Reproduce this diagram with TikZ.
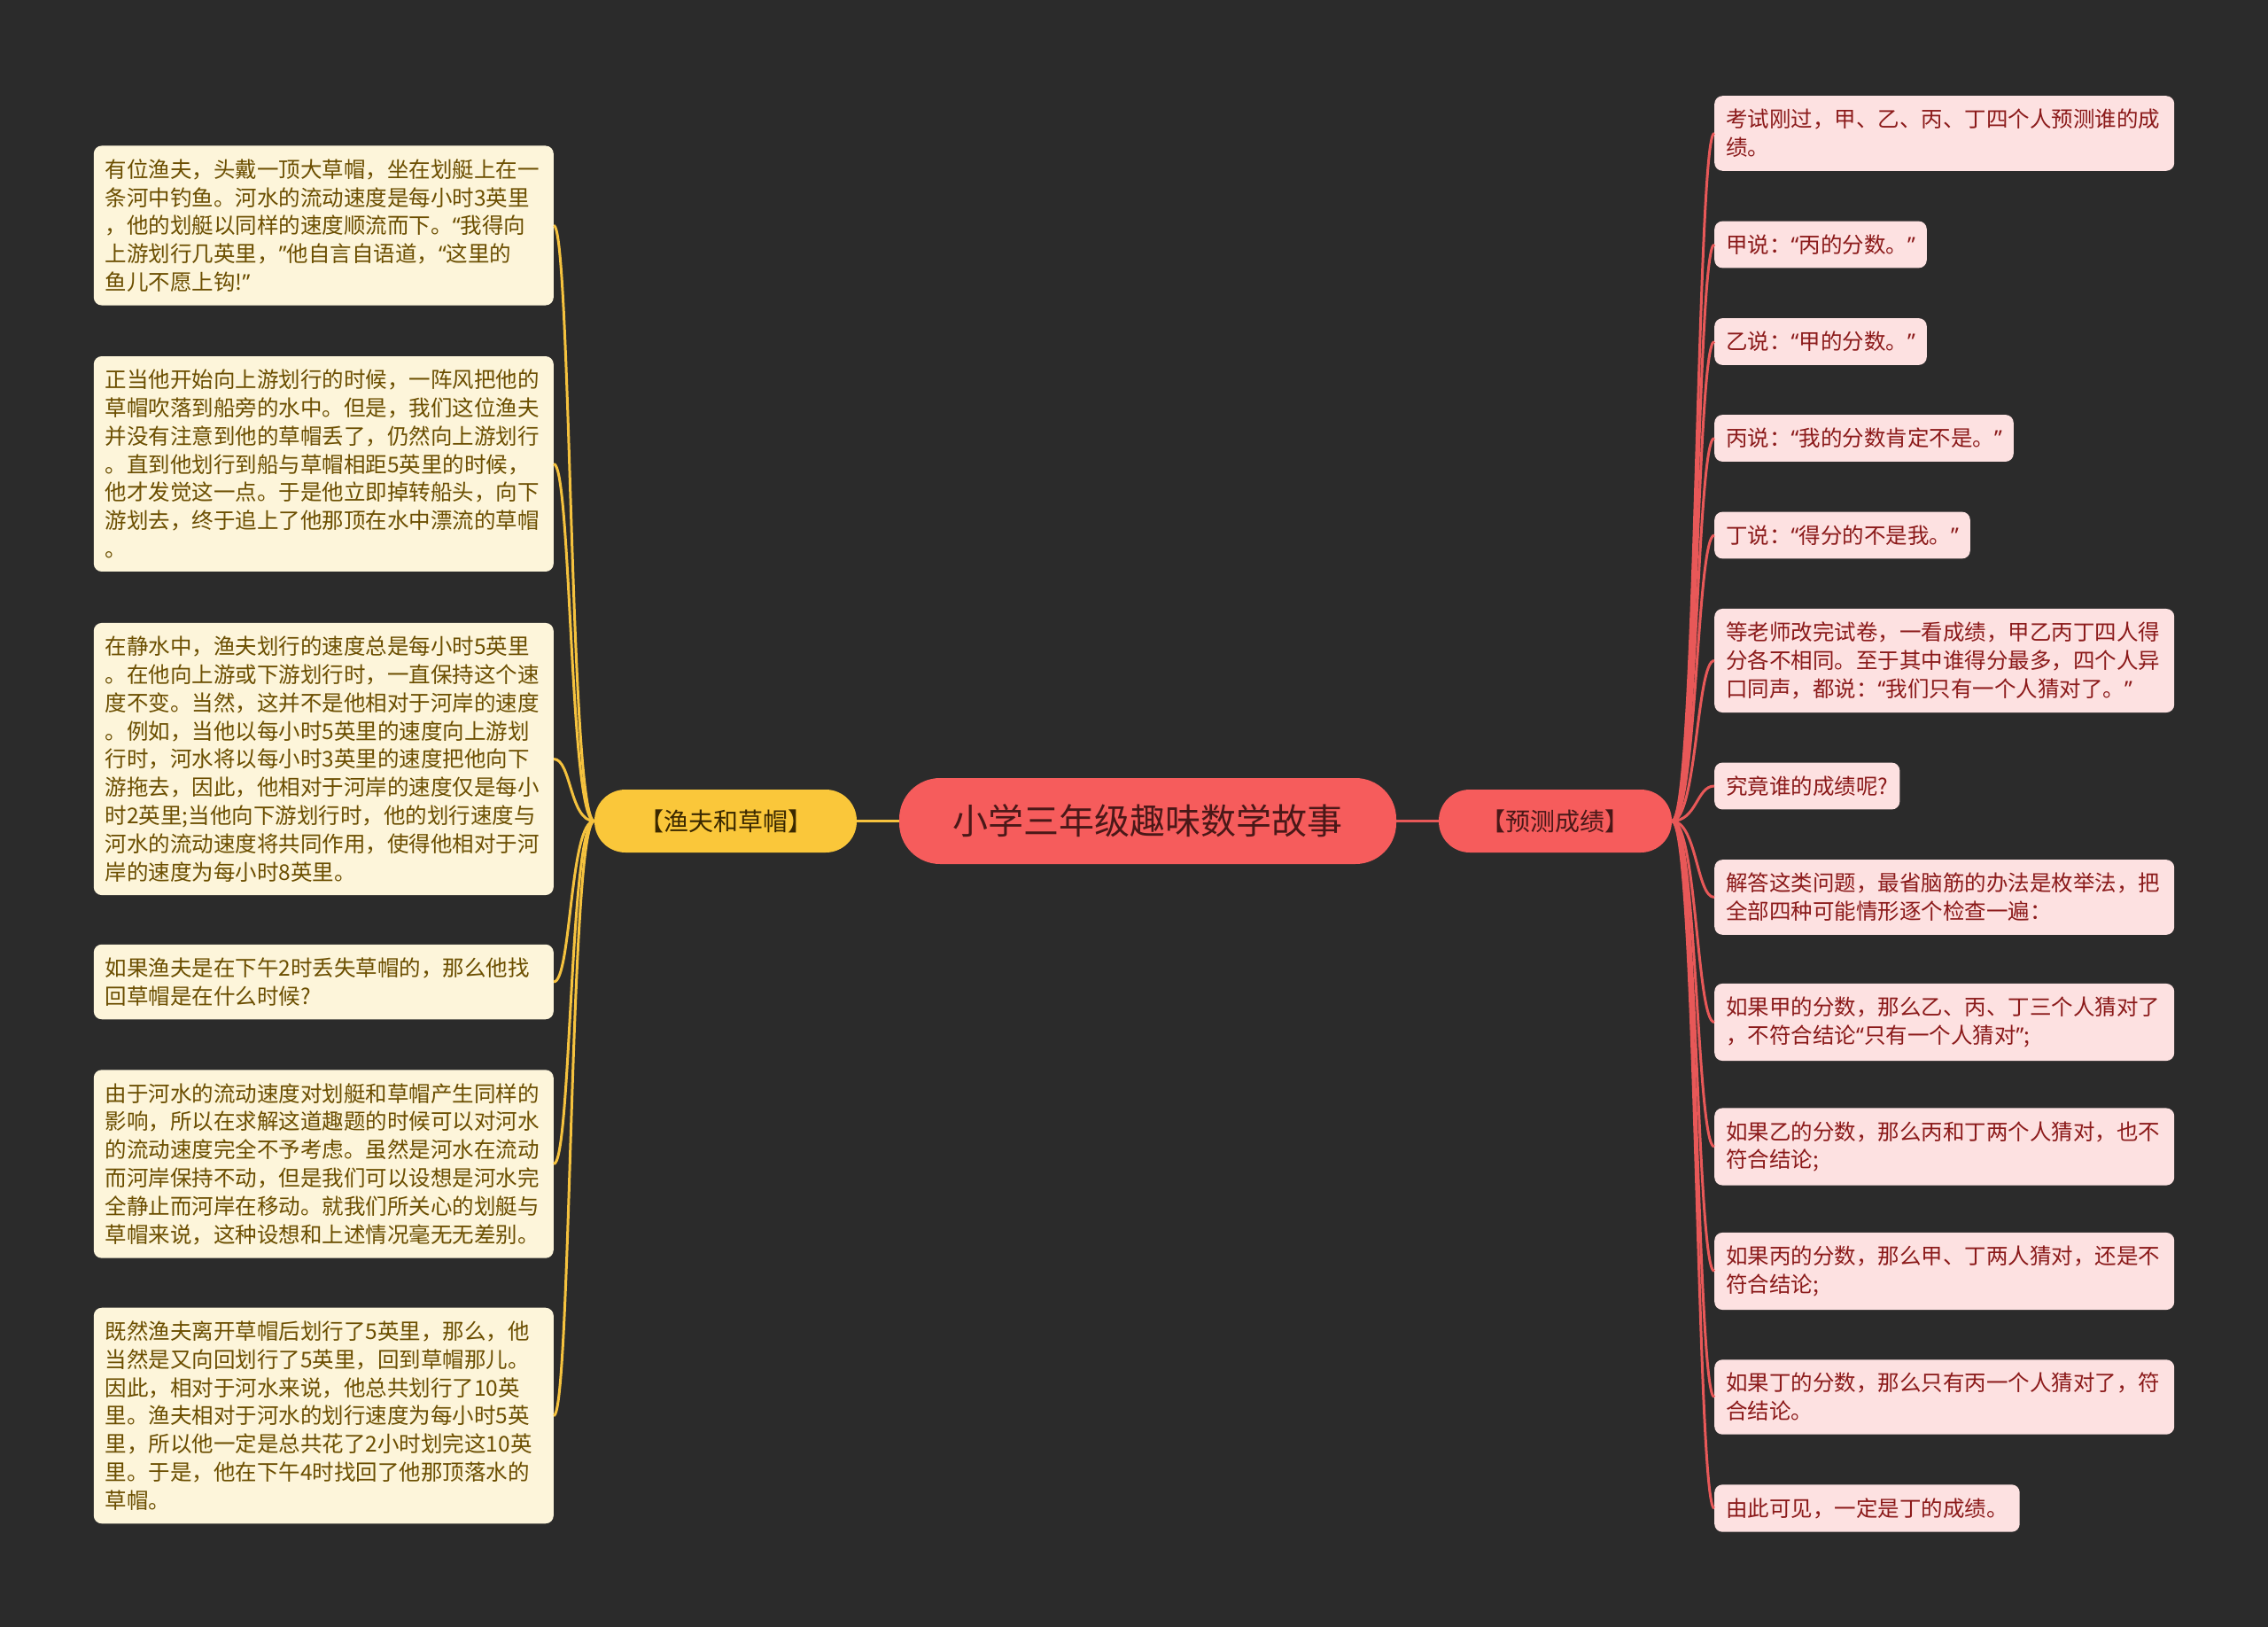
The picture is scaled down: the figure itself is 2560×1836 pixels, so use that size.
\documentclass[tikz,border=0pt]{standalone}
\usepackage{fontspec}
\setmainfont{Noto Sans CJK SC}
\newfontfamily\quotefont{Noto Sans}
\newcommand{\qopen}{{\quotefont “}}
\newcommand{\qclose}{{\quotefont ”}}
\usepackage{xcolor}
\usetikzlibrary{positioning,calc}

\definecolor{bgdark}{HTML}{2B2B2B}
\definecolor{rootred}{HTML}{F65C5C}
\definecolor{mainyellow}{HTML}{FAC73A}
\definecolor{leafcream}{HTML}{FDF5DA}
\definecolor{leafpink}{HTML}{FDE1E1}
\definecolor{txtbrown}{HTML}{6B4E00}
\definecolor{txtred}{HTML}{8B1A1A}
\definecolor{txtdark}{HTML}{4A1818}
\definecolor{txtyellow}{HTML}{3A2800}
\definecolor{linkyellow}{HTML}{F5C23E}
\definecolor{linkred}{HTML}{E85858}

\begin{document}
\begin{tikzpicture}[
    x=1pt, y=-1pt,
    root/.style={rectangle, fill=rootred, text=txtdark, rounded corners=46pt, minimum width=561pt, minimum height=97pt, font=\fontsize{40}{48}\selectfont},
    branchY/.style={rectangle, fill=mainyellow, text=txtyellow, rounded corners=35pt, minimum width=296pt, minimum height=71pt, font=\fontsize{28}{34}\selectfont},
    branchR/.style={rectangle, fill=rootred, text=txtdark, rounded corners=35pt, minimum width=263pt, minimum height=71pt, font=\fontsize{28}{34}\selectfont},
    leafY/.style={rectangle, fill=leafcream, text=txtbrown, rounded corners=9pt, anchor=east, text width=493pt, align=left, inner xsep=13pt, inner ysep=15pt, font=\fontsize{24.5}{31.8}\selectfont},
    leafR/.style={rectangle, fill=leafpink, text=txtred, rounded corners=9pt, anchor=west, align=left, inner xsep=13pt, inner ysep=15pt, font=\fontsize{24.5}{31.8}\selectfont},
    wide/.style={text width=493pt},
    linkY/.style={draw=linkyellow, line width=3pt},
    linkR/.style={draw=linkred, line width=3pt}
]
    \fill[bgdark] (0,0) rectangle (2560,1836);
    \useasboundingbox (0,0) rectangle (2560,1836);

    % Centre and the two branches
    \node (root) at (1295.5, 926.5) [root] {小学三年级趣味数学故事};
    \node (fisher) at (819, 926.5) [branchY] {【渔夫和草帽】};
    \node (guess) at (1755.5, 926.5) [branchR] {【预测成绩】};

    \draw [linkY] (root.west) -- (fisher.east);
    \draw [linkR] (root.east) -- (guess.west);

    % Left branch: the fisherman's story
    \node (f1) at (625, 254.5) [leafY] {有位渔夫，头戴一顶大草帽，坐在划艇上在一\\条河中钓鱼。河水的流动速度是每小时3英里\\，他的划艇以同样的速度顺流而下。\qopen 我得向\\上游划行几英里，\qclose 他自言自语道，\qopen 这里的\\鱼儿不愿上钩!\qclose};
    \node (f2) at (625, 523.5) [leafY] {正当他开始向上游划行的时候，一阵风把他的\\草帽吹落到船旁的水中。但是，我们这位渔夫\\并没有注意到他的草帽丢了，仍然向上游划行\\。直到他划行到船与草帽相距5英里的时候，\\他才发觉这一点。于是他立即掉转船头，向下\\游划去，终于追上了他那顶在水中漂流的草帽\\。};
    \node (f3) at (625, 856.5) [leafY] {在静水中，渔夫划行的速度总是每小时5英里\\。在他向上游或下游划行时，一直保持这个速\\度不变。当然，这并不是他相对于河岸的速度\\。例如，当他以每小时5英里的速度向上游划\\行时，河水将以每小时3英里的速度把他向下\\游拖去，因此，他相对于河岸的速度仅是每小\\时2英里;当他向下游划行时，他的划行速度与\\河水的流动速度将共同作用，使得他相对于河\\岸的速度为每小时8英里。};
    \node (f4) at (625, 1108) [leafY] {如果渔夫是在下午2时丢失草帽的，那么他找\\回草帽是在什么时候?};
    \node (f5) at (625, 1313.5) [leafY] {由于河水的流动速度对划艇和草帽产生同样的\\影响，所以在求解这道趣题的时候可以对河水\\的流动速度完全不予考虑。虽然是河水在流动\\而河岸保持不动，但是我们可以设想是河水完\\全静止而河岸在移动。就我们所关心的划艇与\\草帽来说，这种设想和上述情况毫无无差别。};
    \node (f6) at (625, 1597.5) [leafY] {既然渔夫离开草帽后划行了5英里，那么，他\\当然是又向回划行了5英里，回到草帽那儿。\\因此，相对于河水来说，他总共划行了10英\\里。渔夫相对于河水的划行速度为每小时5英\\里，所以他一定是总共花了2小时划完这10英\\里。于是，他在下午4时找回了他那顶落水的\\草帽。};

    % Right branch: who got the top score
    \node (g1) at (1935, 150.5) [leafR, wide] {考试刚过，甲、乙、丙、丁四个人预测谁的成\\绩。};
    \node (g2) at (1935, 276) [leafR] {甲说：\qopen 丙的分数。\qclose};
    \node (g3) at (1935, 385.5) [leafR] {乙说：\qopen 甲的分数。\qclose};
    \node (g4) at (1935, 494.5) [leafR] {丙说：\qopen 我的分数肯定不是。\qclose};
    \node (g5) at (1935, 604) [leafR] {丁说：\qopen 得分的不是我。\qclose};
    \node (g6) at (1935, 745.5) [leafR, wide] {等老师改完试卷，一看成绩，甲乙丙丁四人得\\分各不相同。至于其中谁得分最多，四个人异\\口同声，都说：\qopen 我们只有一个人猜对了。\qclose};
    \node (g7) at (1935, 887) [leafR] {究竟谁的成绩呢?};
    \node (g8) at (1935, 1012.5) [leafR, wide] {解答这类问题，最省脑筋的办法是枚举法，把\\全部四种可能情形逐个检查一遍：};
    \node (g9) at (1935, 1153.5) [leafR, wide] {如果甲的分数，那么乙、丙、丁三个人猜对了\\，不符合结论\qopen 只有一个人猜对\qclose;};
    \node (g10) at (1935, 1294) [leafR, wide] {如果乙的分数，那么丙和丁两个人猜对，也不\\符合结论;};
    \node (g11) at (1935, 1434.5) [leafR, wide] {如果丙的分数，那么甲、丁两人猜对，还是不\\符合结论;};
    \node (g12) at (1935, 1576.5) [leafR, wide] {如果丁的分数，那么只有丙一个人猜对了，符\\合结论。};
    \node (g13) at (1935, 1702) [leafR] {由此可见，一定是丁的成绩。};

    % Curved links
    \draw [linkY] (fisher.west) .. controls +(-28,0) and +(20,0) .. (f1.east);
    \draw [linkY] (fisher.west) .. controls +(-28,0) and +(20,0) .. (f2.east);
    \draw [linkY] (fisher.west) .. controls +(-28,0) and +(20,0) .. (f3.east);
    \draw [linkY] (fisher.west) .. controls +(-28,0) and +(20,0) .. (f4.east);
    \draw [linkY] (fisher.west) .. controls +(-28,0) and +(20,0) .. (f5.east);
    \draw [linkY] (fisher.west) .. controls +(-28,0) and +(20,0) .. (f6.east);

    \draw [linkR] (guess.east) .. controls +(28,0) and +(-20,0) .. (g1.west);
    \draw [linkR] (guess.east) .. controls +(28,0) and +(-20,0) .. (g2.west);
    \draw [linkR] (guess.east) .. controls +(28,0) and +(-20,0) .. (g3.west);
    \draw [linkR] (guess.east) .. controls +(28,0) and +(-20,0) .. (g4.west);
    \draw [linkR] (guess.east) .. controls +(28,0) and +(-20,0) .. (g5.west);
    \draw [linkR] (guess.east) .. controls +(28,0) and +(-20,0) .. (g6.west);
    \draw [linkR] (guess.east) .. controls +(28,0) and +(-20,0) .. (g7.west);
    \draw [linkR] (guess.east) .. controls +(28,0) and +(-20,0) .. (g8.west);
    \draw [linkR] (guess.east) .. controls +(28,0) and +(-20,0) .. (g9.west);
    \draw [linkR] (guess.east) .. controls +(28,0) and +(-20,0) .. (g10.west);
    \draw [linkR] (guess.east) .. controls +(28,0) and +(-20,0) .. (g11.west);
    \draw [linkR] (guess.east) .. controls +(28,0) and +(-20,0) .. (g12.west);
    \draw [linkR] (guess.east) .. controls +(28,0) and +(-20,0) .. (g13.west);
\end{tikzpicture}
\end{document}
